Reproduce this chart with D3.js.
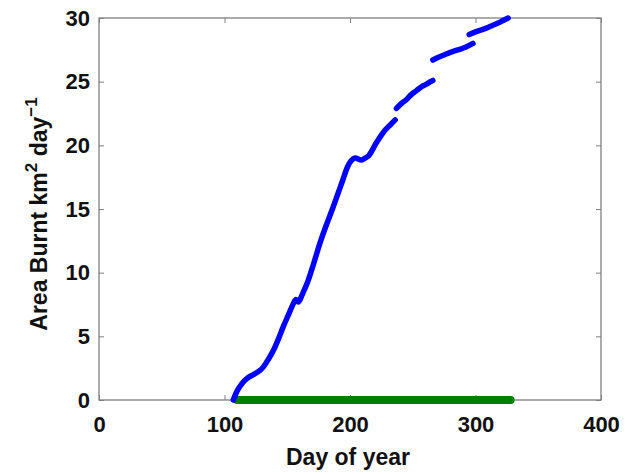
<!DOCTYPE html>
<html><head><meta charset="utf-8">
<script src="https://cdn.jsdelivr.net/npm/d3@7"></script>
<style>body{margin:0;background:#fff;}svg{display:block;}text{font-family:"Liberation Sans",Arial,sans-serif;font-weight:bold;}</style>
</head><body>
<script>
const xTicks = [0,100,200,300,400];
const yTicks = [0,5,10,15,20,25,30];
// blue series, split into segments (gaps in the record)
const seg1Day = [107,110,114,118,123,128,131,135,139,143,147,151,155,157,159,162,166,171,176,181,186,190,194,198,201,204,209,212,215,221,225,228,232,236];
const seg1Val = [0,0.7,1.3,1.7,2.0,2.3,2.6,3.2,3.9,4.8,5.8,6.7,7.6,7.9,7.7,8.3,9.2,10.7,12.3,13.7,15.0,16.1,17.2,18.3,18.8,19.0,18.85,19.0,19.2,20.2,20.8,21.2,21.6,22.0];
const seg2Day = [237,241,245,249,253,257,261,264,266];
const seg2Val = [22.9,23.3,23.6,24.0,24.3,24.6,24.8,25.0,25.1];
const seg3Day = [266,270,275,280,286,292,298];
const seg3Val = [26.7,26.9,27.1,27.3,27.5,27.7,28.0];
const seg4Day = [295,301,307,312,318,322,326];
const seg4Val = [28.7,28.95,29.15,29.35,29.6,29.8,30.0];
// green series (zero line)
const greenDay = [110,328];
const greenVal = [0,0];

const W=625,H=474;
const svg=d3.select("body").append("svg").attr("width",W).attr("height",H);
const x=d3.scaleLinear().domain([0,400]).range([99,601]);
const y=d3.scaleLinear().domain([0,30]).range([400,18]);

// box
svg.append("rect").attr("x",99).attr("y",18).attr("width",502).attr("height",382)
  .attr("fill","none").attr("stroke","#808080").attr("stroke-width",1.3);

const axB=svg.append("g").attr("transform","translate(0,400)")
  .call(d3.axisBottom(x).tickValues(xTicks).tickSizeInner(-5).tickSizeOuter(0).tickPadding(16));
const axT=svg.append("g").attr("transform","translate(0,18)")
  .call(d3.axisTop(x).tickValues(xTicks).tickSizeInner(-5).tickSizeOuter(0).tickFormat(""));
const axL=svg.append("g").attr("transform","translate(99,0)")
  .call(d3.axisLeft(y).tickValues(yTicks).tickSizeInner(-5).tickSizeOuter(0).tickPadding(9));
const axR=svg.append("g").attr("transform","translate(601,0)")
  .call(d3.axisRight(y).tickValues(yTicks).tickSizeInner(-5).tickSizeOuter(0).tickFormat(""));
[axB,axT,axL,axR].forEach(a=>{a.select(".domain").remove();a.selectAll("line").attr("stroke","#808080");
  a.selectAll("text").attr("fill","#111").style("font-size","22px").style("font-weight","bold");});

const zip=(a,b)=>a.map((v,i)=>[v,b[i]]);

svg.append("path").datum(zip(greenDay,greenVal)).attr("d",d3.line().x(p=>x(p[0])).y(p=>y(p[1])))
  .attr("fill","none").attr("stroke","#008000").attr("stroke-width",8).attr("stroke-linecap","round");

[[seg1Day,seg1Val],[seg2Day,seg2Val],[seg3Day,seg3Val],[seg4Day,seg4Val]].forEach(([d,v])=>{
  svg.append("path").datum(zip(d,v)).attr("d",d3.line().x(p=>x(p[0])).y(p=>y(p[1])).curve(d3.curveCatmullRom))
    .attr("fill","none").attr("stroke","#0000ff").attr("stroke-width",5.5).attr("stroke-linecap","round").attr("stroke-linejoin","round");
});

svg.append("text").attr("x",348).attr("y",465).attr("text-anchor","middle")
  .style("font-size","23px").attr("fill","#111").text("Day of year");
const yl=svg.append("text").attr("transform","translate(47,214) rotate(-90)").attr("text-anchor","middle")
  .style("font-size","23px").attr("fill","#111");
yl.append("tspan").text("Area Burnt km");
yl.append("tspan").attr("dy",-10).style("font-size","17px").text("2");
yl.append("tspan").attr("dy",10).text(" day");
yl.append("tspan").attr("dy",-10).style("font-size","17px").text("\u22121");
</script>
</body></html>
